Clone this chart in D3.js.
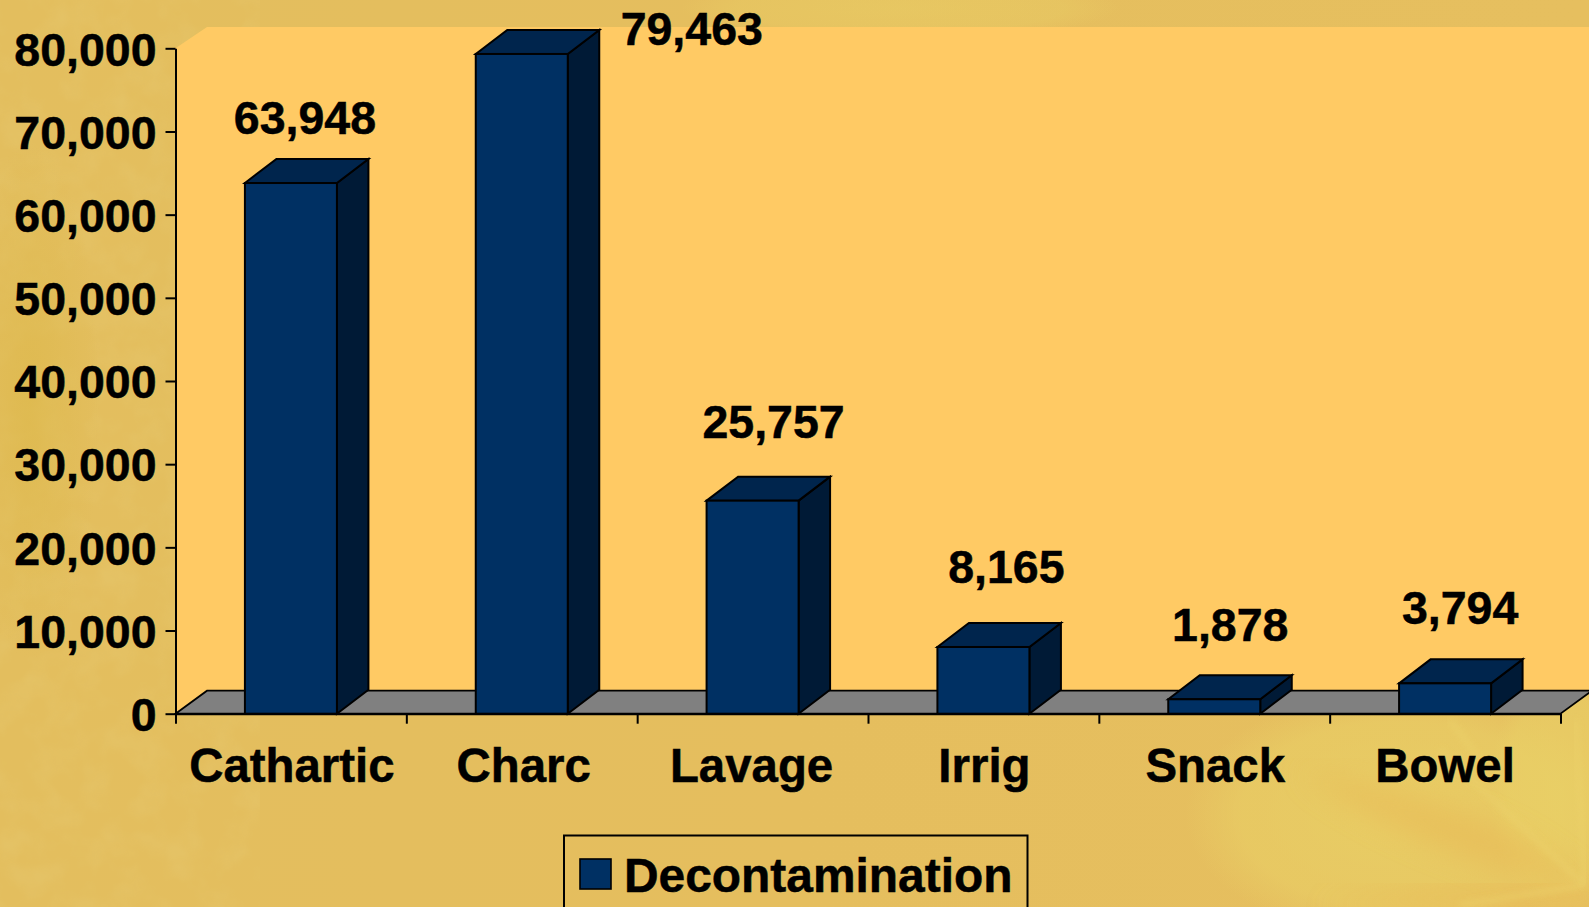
<!DOCTYPE html>
<html><head><meta charset="utf-8">
<script src="https://cdn.jsdelivr.net/npm/d3@7/dist/d3.min.js"></script>
<style>
html,body{margin:0;padding:0;background:#E6BE5F;overflow:hidden}
svg{display:block}
text{font-family:"Liberation Sans",Arial,sans-serif;font-weight:700;fill:#000;stroke:#000;stroke-width:.5px;font-size:47.4px}
</style></head><body>
<svg id="c" width="1589" height="907"></svg>
<script>
const categories=["Cathartic","Charc","Lavage","Irrig","Snack","Bowel"];
const values=[63948,79463,25757,8165,1878,3794];
const yTicks=[0,10000,20000,30000,40000,50000,60000,70000,80000];
const seriesName="Decontamination";
// hand-placed data label offsets from bar top centre, as in the source slide
const labelDx=[14,170,21,23,16,15];
const labelDy=[-63,-23,-76,-78,-72,-73];
const categoryNudge=[1,2,-1,1,1,0];

const W=1589,H=907;
const x0=175.5,x1=1560.5,y0=713.7,yTop=48.3,dx=31.5,dy=23,barDy=24,barDrop=1.2;
const svg=d3.select("#c");
const defs=svg.append("defs");

// background
const lg=defs.append("linearGradient").attr("id","bg").attr("x1",0).attr("y1",0).attr("x2",1).attr("y2",0);
[[0,"#E3BE5E"],[.5,"#E5BE5E"],[1,"#E6BF5F"]].forEach(s=>lg.append("stop").attr("offset",s[0]).attr("stop-color",s[1]));
const rg=defs.append("radialGradient").attr("id","glow");
rg.append("stop").attr("offset",0).attr("stop-color","#E9D066").attr("stop-opacity",.8);
rg.append("stop").attr("offset",.75).attr("stop-color","#E9D066").attr("stop-opacity",.55);
rg.append("stop").attr("offset",1).attr("stop-color","#E9D066").attr("stop-opacity",0);
const rg2=defs.append("radialGradient").attr("id","dark");
rg2.append("stop").attr("offset",0).attr("stop-color","#DDB84A").attr("stop-opacity",.7);
rg2.append("stop").attr("offset",1).attr("stop-color","#DDB84A").attr("stop-opacity",0);
const f=defs.append("filter").attr("id","noise").attr("x",0).attr("y",0).attr("width","100%").attr("height","100%");
f.append("feTurbulence").attr("type","fractalNoise").attr("baseFrequency",.03).attr("numOctaves",3).attr("seed",4);
f.append("feColorMatrix").attr("values","0 0 0 0 .82  0 0 0 0 .68  0 0 0 0 .25  0 0 0 .9 -.34");
defs.append("filter").attr("id","blur").append("feGaussianBlur").attr("stdDeviation",3);
defs.append("filter").attr("id","blur2").append("feGaussianBlur").attr("stdDeviation",14);

svg.append("rect").attr("width",W).attr("height",H).attr("fill","url(#bg)");
svg.append("rect").attr("width",260).attr("height",H).attr("filter","url(#noise)").attr("opacity",.4);
const deco=svg.append("g");
deco.append("ellipse").attr("cx",900).attr("cy",8).attr("rx",220).attr("ry",32).attr("fill","url(#glow)").attr("opacity",.6);
deco.append("ellipse").attr("cx",30).attr("cy",400).attr("rx",70).attr("ry",260).attr("fill","url(#dark)");
deco.append("ellipse").attr("cx",1400).attr("cy",815).attr("rx",215).attr("ry",125).attr("fill","url(#glow)");
deco.append("ellipse").attr("cx",1560).attr("cy",790).attr("rx",70).attr("ry",130).attr("fill","url(#glow)");
deco.append("path").attr("d","M1589,890 C1520,820 1440,800 1300,770 C1380,830 1480,870 1589,890Z")
  .attr("fill","#E8BA56").attr("opacity",.6).attr("filter","url(#blur2)");
deco.append("path").attr("d","M1589,890 C1500,880 1400,890 1320,907 L1589,907Z")
  .attr("fill","#E8BA56").attr("opacity",.7).attr("filter","url(#blur2)");
[[1585,885,1440,750],[1585,885,1460,905],[1585,885,1575,720],[1480,760,1450,720]].forEach(l=>
  deco.append("line").attr("x1",l[0]).attr("y1",l[1]).attr("x2",l[2]).attr("y2",l[3])
    .attr("stroke","#ECD26C").attr("stroke-width",4).attr("opacity",.7).attr("filter","url(#blur)"));

// scales
const x=d3.scaleBand().domain(categories).range([x0,x1]).padding(0);
const tickPos=d3.scaleLinear().domain([0,categories.length]).range([x0,x1]);
const y=d3.scaleLinear().domain([0,80000]).range([y0,yTop]);
const barW=92;
const line=d3.line();

// walls and floor
svg.append("path").attr("fill","#FFCA64")
  .attr("d",line([[x0,yTop],[x0+dx,yTop-21.3],[W,yTop-21.3],[W,y0-dy],[x1,y0],[x0,y0]])+"Z");
svg.append("path").attr("fill","#808080").attr("stroke","#000").attr("stroke-width",1.8)
  .attr("d",line([[x0,y0],[x0+dx,y0-dy],[x1+dx,y0-dy],[x1,y0]])+"Z");

// bars
const bars=svg.append("g").selectAll("g").data(categories.map((c,i)=>({c,v:values[i],i}))).join("g")
  .attr("stroke","#000").attr("stroke-width",2).attr("stroke-linejoin","miter");
const L=d=>x(d.c)+x.bandwidth()/2-barW/2, R=d=>L(d)+barW, T=d=>y(d.v)+barDrop;
bars.append("path").attr("fill","#001A36")
  .attr("d",d=>line([[R(d),y0],[R(d)+dx,y0-barDy],[R(d)+dx,T(d)-barDy],[R(d),T(d)]])+"Z");
bars.append("path").attr("fill","#00254D")
  .attr("d",d=>line([[L(d),T(d)],[L(d)+dx,T(d)-barDy],[R(d)+dx,T(d)-barDy],[R(d),T(d)]])+"Z");
bars.append("rect").attr("fill","#003063")
  .attr("x",L).attr("y",T).attr("width",barW).attr("height",d=>y0-T(d));

// axes
const ay=svg.append("g").attr("transform",`translate(${x0},0)`)
  .call(d3.axisLeft(y).tickValues(yTicks).tickFormat(d3.format(",")).tickSize(10).tickPadding(9).tickSizeOuter(0));
const ax=svg.append("g").attr("transform",`translate(0,${y0})`)
  .call(d3.axisBottom(tickPos).tickValues(d3.range(categories.length+1)).tickFormat("").tickSize(10).tickSizeOuter(0));
[ay,ax].forEach(a=>{a.selectAll("line,path").attr("stroke","#000").attr("stroke-width",2);});
ay.selectAll("text").attr("fill","#000").style("font-size","46.5px").style("font-family",'"Liberation Sans",Arial,sans-serif').style("font-weight",700).attr("dy",".36em");

// category labels
svg.append("g").selectAll("text").data(categories).join("text")
  .attr("text-anchor","middle").attr("x",(c,i)=>x(c)+x.bandwidth()/2+categoryNudge[i]).attr("y",781.5).text(c=>c);

// value labels
svg.append("g").selectAll("text").data(values).join("text")
  .attr("text-anchor","middle")
  .attr("x",(v,i)=>x(categories[i])+x.bandwidth()/2+labelDx[i])
  .attr("y",(v,i)=>y(v)+labelDy[i]+15)
  .style("font-size","46.5px").text(d3.format(","));

// legend
const leg=svg.append("g");
leg.append("rect").attr("x",564).attr("y",835.5).attr("width",463.5).attr("height",90)
  .attr("fill","none").attr("stroke","#000").attr("stroke-width",2);
leg.append("rect").attr("x",580).attr("y",859).attr("width",31).attr("height",30)
  .attr("fill","#003063").attr("stroke","#000").attr("stroke-width",1.6);
leg.append("text").attr("x",624).attr("y",891.5).style("font-size","47.9px").text(seriesName);
</script>
</body></html>
